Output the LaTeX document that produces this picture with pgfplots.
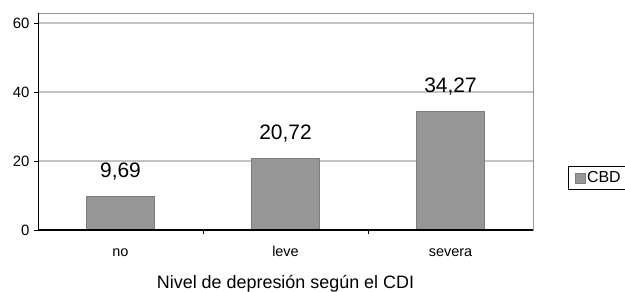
\documentclass[border=0pt]{standalone}
\usepackage{pgfplots}
\pgfplotsset{compat=1.18}
\usepackage{fontspec}
\setmainfont{Liberation Sans}
\definecolor{barfill}{RGB}{150,150,150}
\definecolor{baredge}{RGB}{125,125,125}
\definecolor{gridc}{RGB}{195,195,195}
\definecolor{framec}{RGB}{150,150,150}
\begin{document}
\begin{tikzpicture}[x=1bp,y=1bp]
\useasboundingbox (0,0) rectangle (625,291);
\begin{axis}[
  at={(38bp,61bp)}, anchor=south west,
  width=495bp, height=217bp, scale only axis,
  xmin=-0.5, xmax=2.5, ymin=0, ymax=62.9,
  ytick={0,20,40,60},
  xtick={0,1,2}, xticklabels={no,leve,severa},
  minor xtick={0.5,1.5},
  tick align=outside,
  xtick pos=bottom, ytick pos=left,
  major x tick style={draw=none},
  minor tick length=4bp, major tick length=4bp,
  every tick/.style={black, line width=1pt},
  ymajorgrids, grid style={gridc, line width=1.2pt},
  axis line style={framec, line width=0.8pt},
  /pgf/number format/assume math mode=true,
  yticklabel style={font=\fontsize{15}{15}\selectfont, xshift=-1bp},
  xticklabel style={font=\fontsize{14.5}{14.5}\selectfont, anchor=base, inner sep=0pt, yshift=-22bp},
  xlabel={Nivel de depresión según el CDI},
  xlabel style={font=\fontsize{18}{18}\selectfont, anchor=base, inner sep=0pt, at={(axis description cs:0.5,-0.2696)}},
  ybar, bar width=68bp,
  nodes near coords,
  nodes near coords style={font=\fontsize{21}{21}\selectfont, anchor=base, inner sep=0pt, yshift=19.5bp,
    /pgf/number format/.cd, fixed, fixed zerofill, precision=2, use comma},
  legend style={at={(axis description cs:1.0707,0.2396)}, anchor=west,
    draw=black, line width=1pt, font=\fontsize{16}{16}\selectfont,
    inner xsep=6bp, inner ysep=3bp},
  legend image code/.code={\draw[fill=barfill, draw=baredge, line width=0.6pt] (0bp,-5bp) rectangle (10bp,5bp);},
]
\addplot[fill=barfill, draw=baredge, line width=0.8pt] coordinates {(0,9.69) (1,20.72) (2,34.27)};
\addlegendentry{CBD}
\draw[black, line width=1.3pt] (rel axis cs:0,1) -- (rel axis cs:0,0) -- (rel axis cs:1,0);
\end{axis}
\end{tikzpicture}
\end{document}
